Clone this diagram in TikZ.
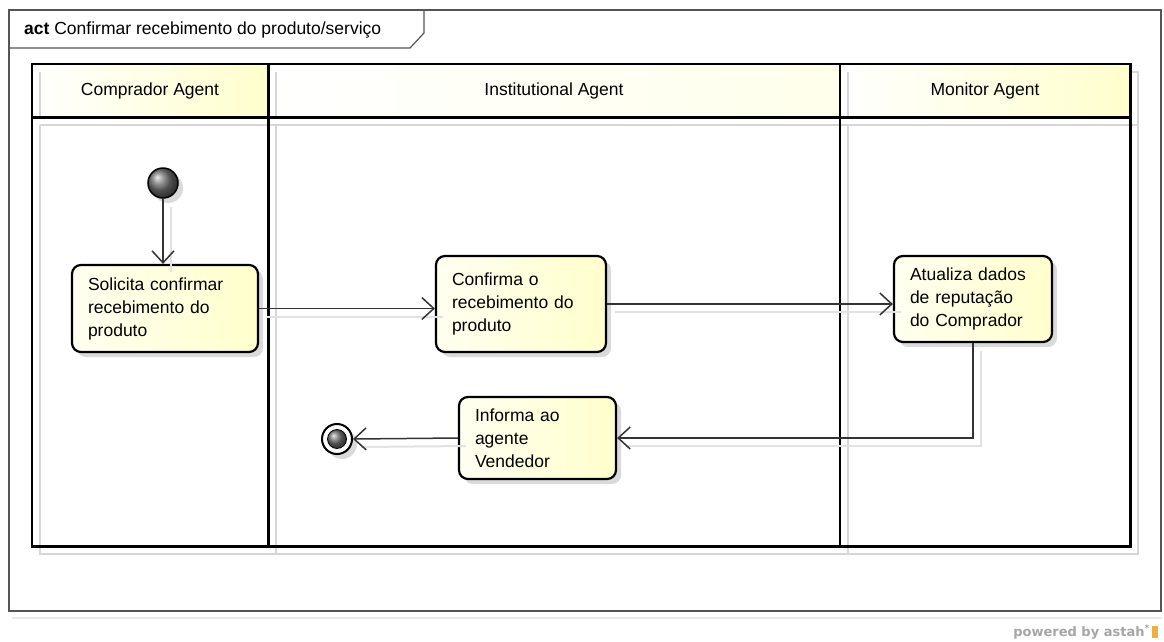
\documentclass[tikz,border=0pt]{standalone}
\usepackage{fontspec}
\setmainfont{Liberation Sans}
\newfontfamily\footfont{DejaVu Sans}
\usetikzlibrary{arrows.meta,shadows}
\definecolor{framecol}{HTML}{555555}
\definecolor{lanesh}{HTML}{D6D6D6}
\definecolor{connsh}{HTML}{E2E2E2}
\definecolor{hdryel}{HTML}{FFFFCC}
\definecolor{actyel}{HTML}{FFFFCC}
\definecolor{actlt}{HTML}{FFFFF0}
\definecolor{conncol}{HTML}{333333}
\definecolor{astahor}{HTML}{F0B040}
\tikzset{
  lanehead/.style={inner sep=0pt, font=\fontsize{17.5}{20}\selectfont},
  lanebody/.style={inner sep=0pt, fill=white},
  laneshadow/.style={draw=lanesh, line width=2.5pt},
  laneline/.style={draw=black, line width=2.6pt},
  action/.style={draw=black, line width=2.2pt, rounded corners=9pt,
    left color=actlt, right color=actyel, align=left, inner xsep=16pt,
    inner ysep=0pt, font=\fontsize{17.5}{23}\selectfont,
    drop shadow={shadow xshift=5pt, shadow yshift=-5pt, fill=black!18, opacity=0.8}},
  conn/.style={draw=conncol, line width=1.5pt,
    -{Straight Barb[length=12pt,width=22pt,line width=1.5pt]}},
  connshadow/.style={draw=connsh, line width=2pt,
    transform canvas={shift={(8pt,-8pt)}}},
}
\begin{document}
\begin{tikzpicture}[x=1pt,y=-1pt]
\useasboundingbox (0,0) rectangle (1164,641);
\fill[white] (0,0) rectangle (1164,641);

% outer frame
\draw[draw=black!8, line width=1.5pt] (12,618) -- (1162,618);
\draw[draw=framecol, line width=1.2pt] (9,10) rectangle (1161,611);
\draw[draw=framecol, line width=1.2pt] (9,48) -- (410,48) -- (424,33) -- (424,10);
\node[anchor=west, inner sep=0pt, font=\fontsize{17.5}{20}\selectfont] (title) at (24,30)
  {\textbf{act} Confirmar recebimento do produto/serviço};

% lane shadows
\draw[laneshadow] (40,72) rectangle (276,125);
\draw[laneshadow] (40,125) rectangle (276,554);
\draw[laneshadow] (276,72) rectangle (848,125);
\draw[laneshadow] (276,125) rectangle (848,554);
\draw[laneshadow] (848,72) rectangle (1138,125);
\draw[laneshadow] (848,125) rectangle (1138,554);

% lane headers and bodies
\node[lanehead, left color=white, right color=hdryel, minimum width=236pt, minimum height=53pt] (h1) at (150,90.5) {Comprador Agent};
\node[lanehead, left color=white, right color=hdryel!40, minimum width=572pt, minimum height=53pt] (h2) at (554,90.5) {Institutional Agent};
\node[lanehead, left color=white, right color=hdryel, minimum width=290pt, minimum height=53pt] (h3) at (985,90.5) {Monitor Agent};
\node[lanebody, minimum width=236pt, minimum height=429pt] (b1) at (150,331.5) {};
\node[lanebody, minimum width=572pt, minimum height=429pt] (b2) at (554,331.5) {};
\node[lanebody, minimum width=290pt, minimum height=429pt] (b3) at (985,331.5) {};

% inner shadow lines visible inside lanes
\draw[laneshadow] (40,125) -- (40,546);
\draw[laneshadow] (276,125) -- (276,546);
\draw[laneshadow] (848,125) -- (848,546);
\draw[laneshadow] (40,125) -- (1130,125);
\draw[laneshadow] (40,72) -- (40,117);
\draw[laneshadow] (276,72) -- (276,117);
\draw[laneshadow] (848,72) -- (848,117);

% lane outlines
\draw[laneline] (h1.north west) rectangle (b3.south east);
\draw[laneline] (h1.south west) -- (h3.south east);
\draw[laneline] (h1.north east) -- (b1.south east);
\draw[laneline] (h3.north west) -- (b3.south west);

% nodes
\node[circle, minimum size=30pt, inner sep=0pt, draw=black, line width=1.5pt, ball color=black!55,
  drop shadow={shadow xshift=5pt, shadow yshift=-5pt, fill=black!18, opacity=0.8}] (start) at (163,183) {};
\node[action, text width=154pt, minimum height=87pt] (a1) at (165,308.5)
  {Solicita confirmar\\recebimento do\\produto};
\node[action, text width=138pt, minimum height=96pt] (a2) at (521,304)
  {Confirma o\\recebimento do\\produto};
\node[action, text width=126pt, minimum height=86pt] (a3) at (973,299)
  {Atualiza dados\\de reputação\\do Comprador};
\node[action, text width=125pt, minimum height=82pt] (a4) at (537.5,438)
  {Informa ao\\agente\\Vendedor};
\node[circle, minimum size=30pt, inner sep=0pt, draw=black, line width=2pt, fill=white,
  drop shadow={shadow xshift=5pt, shadow yshift=-5pt, fill=black!18, opacity=0.8}] (final) at (337,439) {};
\shade[ball color=black!55] (final.center) circle (9.5);
\draw[black, line width=0.8pt] (final.center) circle (9.5);

% connector shadows
\draw[connshadow] (start.south) -- (start.south |- a1.north);
\draw[connshadow] (a1.east) -- (a1.east -| a2.west);
\draw[connshadow] (a2.east) -- (a2.east -| a3.west);
\draw[connshadow] (a3.south) |- (a4.east);
\draw[connshadow] (a4.west) -- (final.east);

% connectors
\draw[conn] (start.south) -- (start.south |- a1.north);
\draw[conn] (a1.east) -- (a1.east -| a2.west);
\draw[conn] (a2.east) -- (a2.east -| a3.west);
\draw[conn] (a3.south) |- (a4.east);
\draw[conn] (a4.west) -- (final.east);

% footer
\node[anchor=east, inner sep=0pt, text=black!35, font=\footfont\bfseries\fontsize{13}{15}\selectfont] (foot) at (1150,632)
  {powered by astah\textsuperscript{*}};
\fill[astahor] (1152,626) rectangle (1158,638);
\end{tikzpicture}
\end{document}
